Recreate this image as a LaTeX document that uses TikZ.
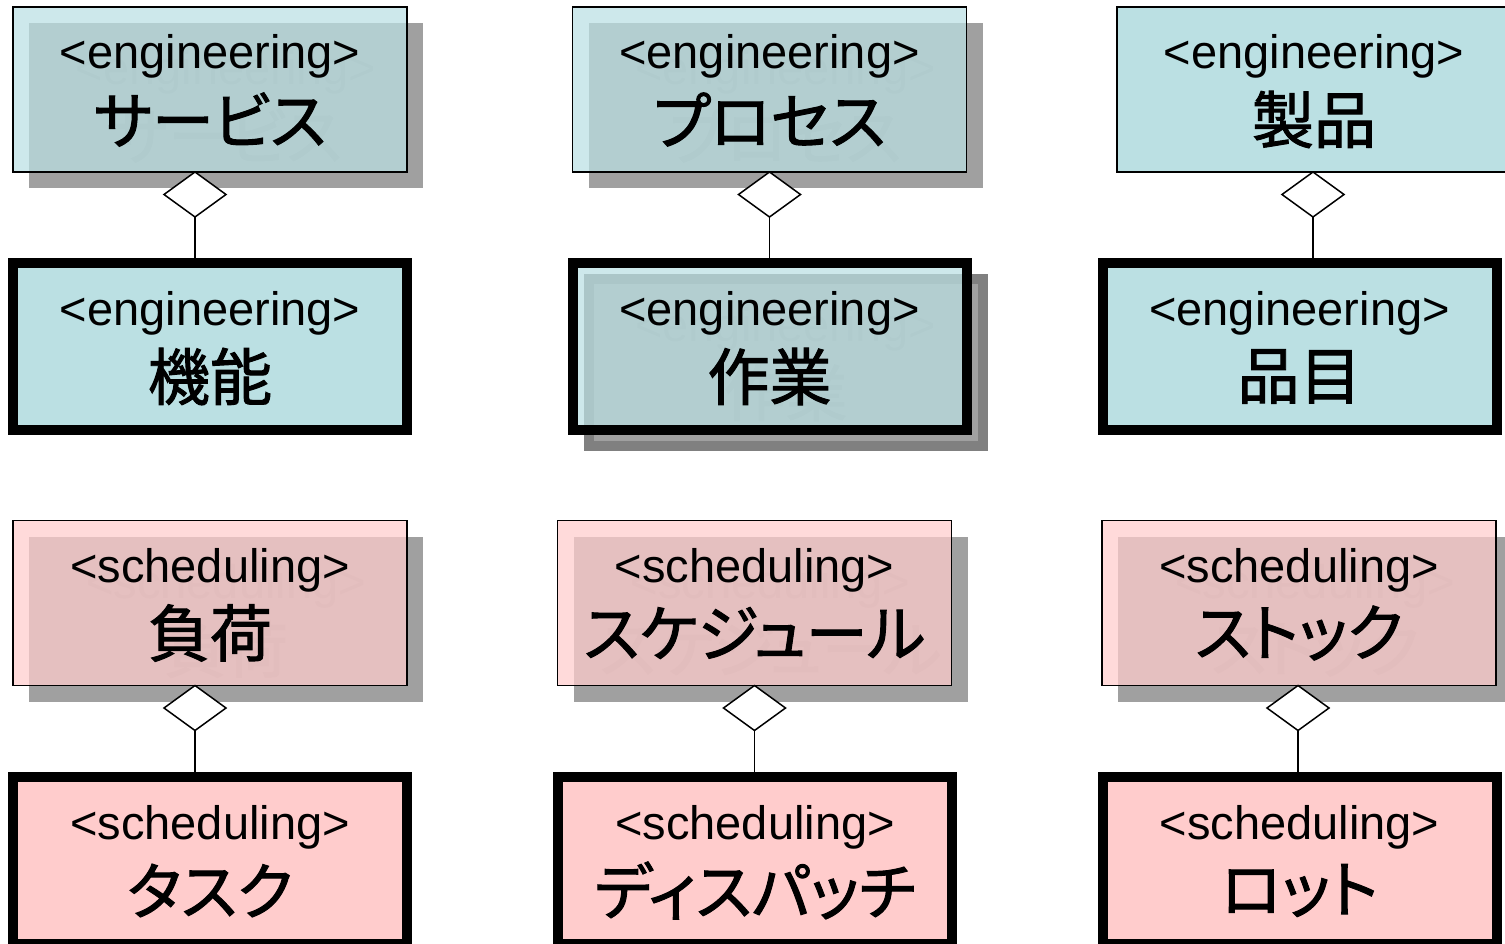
\documentclass[tikz,border=0pt]{standalone}
\usepackage{fontspec}
\setmainfont{Liberation Sans}
\newfontfamily\jpfont{Noto Sans CJK JP}[RawFeature={+palt;embolden=1.6}]
\usetikzlibrary{shapes.geometric}
\pgfdeclarelayer{shadow}
\pgfsetlayers{shadow,main}
\definecolor{engc}{HTML}{BBE0E3}
\definecolor{schc}{HTML}{FFCCCC}
\definecolor{shadc}{HTML}{A0A0A0}
\definecolor{shadd}{HTML}{808080}
\definecolor{ghostc}{HTML}{959595}
\tikzset{
  thinbox/.style={rectangle, draw=black, line width=1.5pt, outer sep=0pt, inner sep=0pt,
    minimum width=394pt, minimum height=165pt},
  thickbox/.style={rectangle, draw=black, line width=10pt, outer sep=0pt, inner sep=0pt,
    minimum width=394pt, minimum height=167pt},
  engfill/.style={fill=engc},
  schfill/.style={fill=schc},
  translucent/.style={fill opacity=0.73},
  stereo/.style={inner sep=0pt, outer sep=0pt, font=\fontsize{47}{50}\selectfont},
  jp/.style={inner sep=0pt, outer sep=0pt, font=\jpfont\fontsize{62}{66}\selectfont},
  ghost/.style={text=ghostc},
  agg/.style={shape=diamond, draw=black, fill=white, line width=1.5pt, inner sep=0pt,
    outer sep=0pt, minimum width=62pt, minimum height=45pt},
  conn/.style={draw=black, line width=1.5pt},
  shadowrect/.style={fill=shadc},
  shadowthick/.style={draw=shadd, fill=shadc, line width=10pt}
}
% box with its two lines of text
\newcommand\umlbox[6]{%
  \node[#4] (#1) at (#2,#3) {};
  \node[stereo, anchor=base] (#1s) at ([yshift=21pt]#1.center) {#5};
  \node[jp] (#1j) at ([yshift=-30pt]#1.center) {#6};
}
% ghost copy of the texts for a shadowed box
\newcommand\ghosttext[3]{%
  \node[stereo, ghost, anchor=base] (#1gs) at ([xshift=16pt,yshift=-16pt]#1s.base) {#2};
  \node[jp, ghost] (#1gj) at ([xshift=16pt,yshift=-16pt]#1j.center) {#3};
}
\begin{document}
\begin{tikzpicture}[x=1pt,y=-1pt]
\useasboundingbox (0,0) rectangle (1505,944);

% ---- row 1: engineering (thin) ----
\umlbox{e1}{210}{89.5}{thinbox, engfill, translucent}{<engineering>}{サービス}
\umlbox{e2}{769.5}{89.5}{thinbox, engfill, translucent}{<engineering>}{プロセス}
\umlbox{e3}{1314}{89.5}{thinbox, engfill}{<engineering>}{製品}

% ---- row 2: engineering (thick) ----
\umlbox{f1}{210}{346.5}{thickbox, engfill}{<engineering>}{機能}
\umlbox{f2}{769.5}{346.5}{thickbox, engfill, translucent}{<engineering>}{作業}
\umlbox{f3}{1299.5}{346.5}{thickbox, engfill}{<engineering>}{品目}

% ---- row 3: scheduling (thin) ----
\umlbox{s1}{210}{603}{thinbox, schfill, translucent}{<scheduling>}{負荷}
\umlbox{s2}{754.5}{603}{thinbox, schfill, translucent}{<scheduling>}{スケジュール}
\umlbox{s3}{1299}{603}{thinbox, schfill, translucent}{<scheduling>}{ストック}

% ---- row 4: scheduling (thick) ----
\umlbox{t1}{210}{860.5}{thickbox, schfill}{<scheduling>}{タスク}
\umlbox{t2}{755}{860.5}{thickbox, schfill}{<scheduling>}{ディスパッチ}
\umlbox{t3}{1299.5}{860.5}{thickbox, schfill}{<scheduling>}{ロット}

% ---- shadows ----
\begin{pgfonlayer}{shadow}
  \foreach \b in {e1,e2,s1,s2,s3}{
    \fill[shadowrect] ([xshift=16pt,yshift=-16pt]\b.south west) rectangle ([xshift=16pt,yshift=-16pt]\b.north east);
  }
  \draw[shadowthick] ([xshift=16pt,yshift=-16pt]f2.south west) rectangle ([xshift=16pt,yshift=-16pt]f2.north east);
  \ghosttext{e1}{<engineering>}{サービス}
  \ghosttext{e2}{<engineering>}{プロセス}
  \ghosttext{f2}{<engineering>}{作業}
  \ghosttext{s1}{<scheduling>}{負荷}
  \ghosttext{s2}{<scheduling>}{スケジュール}
  \ghosttext{s3}{<scheduling>}{ストック}
\end{pgfonlayer}

% ---- aggregation diamonds and connectors ----
\node[agg, anchor=north] (d1) at ([xshift=-15pt]e1.south) {};
\node[agg, anchor=north] (d2) at (e2.south) {};
\node[agg, anchor=north] (d3) at ([xshift=-1pt]e3.south) {};
\node[agg, anchor=north] (d4) at ([xshift=-15pt]s1.south) {};
\node[agg, anchor=north] (d5) at (s2.south) {};
\node[agg, anchor=north] (d6) at ([xshift=-1pt]s3.south) {};
\draw[conn] (d1.south) -- (d1.south |- f1.north);
\draw[conn] (d2.south) -- (d2.south |- f2.north);
\draw[conn] (d3.south) -- (d3.south |- f3.north);
\draw[conn] (d4.south) -- (d4.south |- t1.north);
\draw[conn] (d5.south) -- (d5.south |- t2.north);
\draw[conn] (d6.south) -- (d6.south |- t3.north);
\end{tikzpicture}
\end{document}
